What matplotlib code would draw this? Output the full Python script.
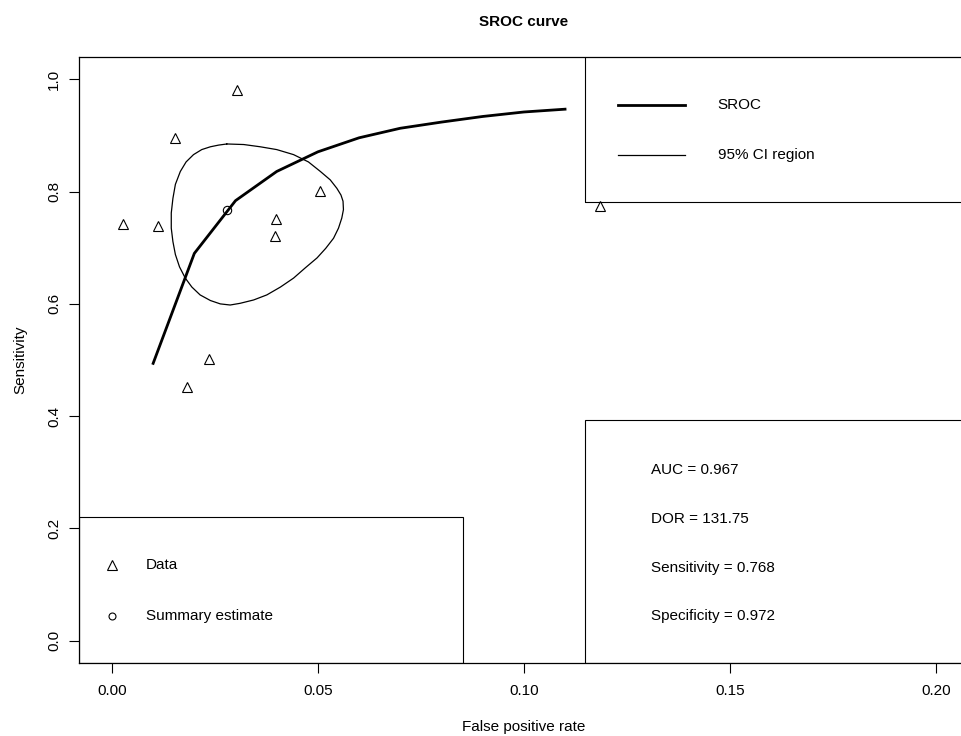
import matplotlib
matplotlib.use("Agg")
import matplotlib.pyplot as plt
from matplotlib.patches import Rectangle

plt.rcParams['font.family'] = ['Liberation Sans', 'DejaVu Sans']

# study data (false positive rate, sensitivity)
fpr = [0.0026, 0.0113, 0.0154, 0.0303, 0.0236, 0.0183, 0.0398, 0.0395, 0.0504, 0.1185]
sens = [0.742, 0.739, 0.895, 0.981, 0.502, 0.452, 0.752, 0.721, 0.802, 0.774]

# summary estimate
sum_fpr = 0.028
sum_sens = 0.768

# SROC curve
sroc_x = [0.01, 0.02, 0.03, 0.04, 0.05, 0.06, 0.07, 0.08, 0.09, 0.10, 0.11]
sroc_y = [0.494, 0.690, 0.784, 0.836, 0.871, 0.896, 0.913, 0.924, 0.934, 0.942, 0.947]

# 95% confidence region (read around the contour)
ci_x = [0.0279, 0.0320, 0.0360, 0.0400, 0.0441, 0.0477, 0.0506, 0.0530, 0.0546, 0.0556,
        0.0561, 0.0562, 0.0558, 0.0550, 0.0538, 0.0519, 0.0498, 0.0469, 0.0441, 0.0409,
        0.0376, 0.0344, 0.0311, 0.0287, 0.0263, 0.0239, 0.0214, 0.0194, 0.0178, 0.0164,
        0.0154, 0.0148, 0.0144, 0.0144, 0.0148, 0.0154, 0.0166, 0.0180, 0.0198, 0.0218,
        0.0239, 0.0259, 0.0279]
ci_y = [0.885, 0.884, 0.880, 0.875, 0.866, 0.853, 0.836, 0.821, 0.806, 0.794,
        0.783, 0.768, 0.753, 0.735, 0.717, 0.699, 0.682, 0.664, 0.646, 0.630,
        0.616, 0.607, 0.601, 0.598, 0.600, 0.606, 0.616, 0.630, 0.646, 0.666,
        0.688, 0.711, 0.735, 0.762, 0.788, 0.813, 0.836, 0.853, 0.866, 0.875,
        0.880, 0.883, 0.885]

stats = ["AUC = 0.967", "DOR = 131.75", "Sensitivity = 0.768", "Specificity = 0.972"]

xticks = [0.00, 0.05, 0.10, 0.15, 0.20]
yticks = [0.0, 0.2, 0.4, 0.6, 0.8, 1.0]

W, H = 961, 736
FS = 11
fig = plt.figure(figsize=(W / 100, H / 100), dpi=100)
ax = fig.add_axes([79 / W, (H - 663) / H, (968.7 - 79) / W, (663 - 57) / H])

ax.plot(sroc_x, sroc_y, color='black', lw=2.0)
ax.plot(ci_x, ci_y, color='black', lw=0.9, solid_joinstyle='round', solid_capstyle='round')
ax.plot(fpr, sens, linestyle='none', marker='^', ms=7.5, mfc='none', mec='black', mew=0.8)
ax.plot([sum_fpr], [sum_sens], linestyle='none', marker='o', ms=6, mfc='none', mec='black', mew=0.8)

ax.set_xlim(-0.008, 0.208)
ax.set_ylim(-0.04, 1.04)
ax.set_xticks(xticks)
ax.set_xticklabels([f"{v:.2f}" for v in xticks])
ax.set_yticks(yticks)
ax.set_yticklabels([f"{v:.1f}" for v in yticks], rotation=90, va='center')
ax.tick_params(direction='out', length=7, width=0.8, labelsize=FS, color='black')
ax.tick_params(axis='x', pad=8)
ax.tick_params(axis='y', pad=6)
for s in ax.spines.values():
    s.set_linewidth(0.9)

ax.set_xlabel("False positive rate", fontsize=FS, labelpad=16)
ax.set_ylabel("Sensitivity", fontsize=FS, labelpad=14)
fig.text(524 / W, 1 - 22 / H, "SROC curve", ha='center', va='center', fontsize=FS, fontweight='bold')

# legend boxes
ax.add_patch(Rectangle((-0.008, -0.04), 0.0853 + 0.008, 0.220 + 0.04, fill=False, ec='black', lw=0.8))
ax.add_patch(Rectangle((0.1149, 0.782), 0.1, 0.26, fill=False, ec='black', lw=0.8))
ax.add_patch(Rectangle((0.1149, -0.04), 0.1, 0.393 + 0.04, fill=False, ec='black', lw=0.8))

# bottom-left legend
ax.plot([0.0], [0.135], marker='^', ms=6.5, mfc='none', mec='black', mew=0.8)
ax.plot([0.0], [0.043], marker='o', ms=5, mfc='none', mec='black', mew=0.8)
ax.text(0.0083, 0.135, "Data", va='center', fontsize=FS)
ax.text(0.0083, 0.043, "Summary estimate", va='center', fontsize=FS)

# top-right legend
ax.plot([0.1229, 0.1392], [0.954, 0.954], color='black', lw=2.0)
ax.plot([0.1229, 0.1392], [0.866, 0.866], color='black', lw=0.9)
ax.text(0.1471, 0.954, "SROC", va='center', fontsize=FS)
ax.text(0.1471, 0.866, "95% CI region", va='center', fontsize=FS)

# bottom-right stats
for txt, yy in zip(stats, [0.304, 0.217, 0.129, 0.044]):
    ax.text(0.1309, yy, txt, va='center', fontsize=FS)

fig.savefig("out.png", dpi=100)
